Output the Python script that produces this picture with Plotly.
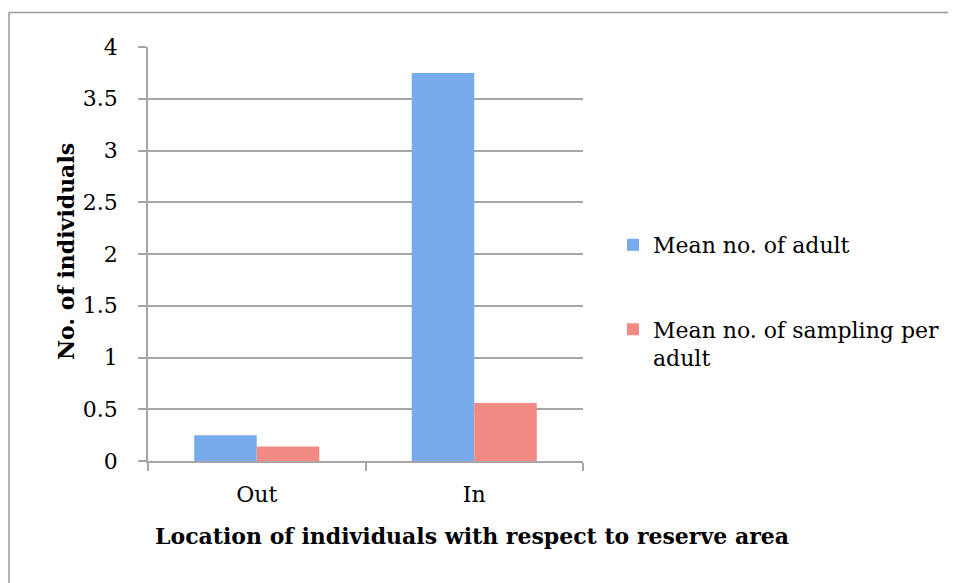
import plotly.graph_objects as go

categories = ["Out", "In"]
mean_adult = [0.25, 3.75]
mean_sampling = [0.14, 0.56]
series_names = ["Mean no. of adult", "Mean no. of sampling per<br>adult"]
y_ticks = [0, 0.5, 1, 1.5, 2, 2.5, 3, 3.5, 4]
y_tick_text = ["0", "0.5", "1", "1.5", "2", "2.5", "3", "3.5", "4"]

OFF = 8  # page body margin
W, H = 956 - OFF, 583 - OFF
L, R, T, B = 148, 583, 47, 461  # plot area in page px

def px_x(p):
    return (p - L) / (R - L)

def px_y(p):
    return (B - p) / (B - T)

FONT = "DejaVu Serif"
GRID = "#a6a6a6"
FS = 22

fig = go.Figure()
fig.add_trace(go.Bar(
    x=categories, y=mean_adult, name=series_names[0],
    marker=dict(color="#78abeb", line=dict(width=0)), legend="legend",
))
fig.add_trace(go.Bar(
    x=categories, y=mean_sampling, name=series_names[1],
    marker=dict(color="#f08a82", line=dict(width=0)), legend="legend2",
))

fig.update_layout(
    width=W, height=H,
    margin=dict(l=L - OFF, r=956 - R, t=T - OFF, b=583 - B, pad=0),
    paper_bgcolor="white", plot_bgcolor="white",
    font=dict(family=FONT, size=FS, color="#000000"),
    barmode="group", bargap=0.425, bargroupgap=0,
    showlegend=True,
    legend=dict(x=px_x(613), y=px_y(245), xanchor="left", yanchor="middle",
                font=dict(size=FS), bgcolor="rgba(0,0,0,0)"),
    legend2=dict(x=px_x(613), y=px_y(344), xanchor="left", yanchor="middle",
                 font=dict(size=FS), bgcolor="rgba(0,0,0,0)", valign="top"),
    xaxis=dict(
        type="category", showline=True, linecolor=GRID, linewidth=1.5,
        ticks="outside", tickson="boundaries", ticklen=8, tickcolor=GRID,
        tickwidth=1.5, showgrid=False, tickfont=dict(size=FS),
        ticklabelstandoff=13, range=[-0.5, 1.5],
    ),
    yaxis=dict(
        range=[0, 4], tickvals=y_ticks, ticktext=y_tick_text,
        showline=True, linecolor=GRID, linewidth=1.5,
        ticks="outside", ticklen=8, tickcolor=GRID, tickwidth=1.5,
        showgrid=True, gridcolor=GRID, gridwidth=1.5, zeroline=False,
        tickfont=dict(size=FS), ticklabelstandoff=16,
    ),
    annotations=[
        dict(text="<b>Location of individuals with respect to reserve area</b>",
             xref="paper", yref="paper", x=px_x(472), y=px_y(536),
             xanchor="center", yanchor="middle", showarrow=False,
             font=dict(size=FS)),
        dict(text="<b>No. of individuals</b>",
             xref="paper", yref="paper", x=px_x(66), y=px_y(252),
             xanchor="center", yanchor="middle", showarrow=False,
             textangle=-90, font=dict(size=FS)),
    ],
    shapes=[
        dict(type="line", xref="paper", yref="paper",
             x0=px_x(9), x1=px_x(1000), y0=px_y(12.5), y1=px_y(12.5),
             line=dict(color="#999999", width=1.5)),
        dict(type="line", xref="paper", yref="paper",
             x0=px_x(9), x1=px_x(9), y0=px_y(12.5), y1=px_y(640),
             line=dict(color="#999999", width=1.5)),
    ],
)

fig.write_html("out.html")
